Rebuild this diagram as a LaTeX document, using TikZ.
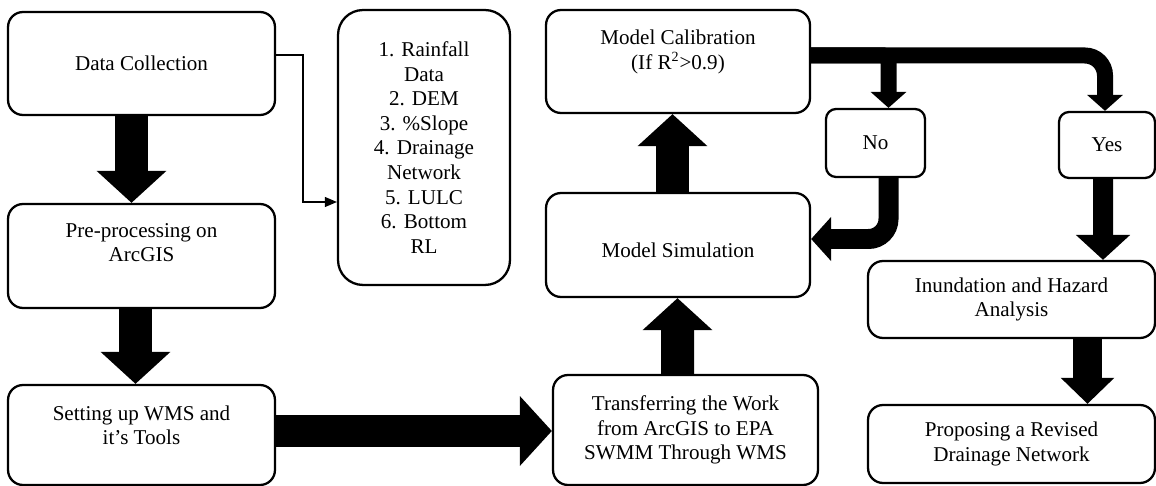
\documentclass[tikz,border=0pt]{standalone}
\usepackage{fontspec}
\setmainfont{Liberation Serif}
\usetikzlibrary{arrows.meta,calc}

\begin{document}
\begin{tikzpicture}[x=0.02cm, y=-0.02cm, font=\fontsize{12}{14}\selectfont,
  box/.style={draw, line width=1.3pt, rounded corners=0.3cm, align=center, inner sep=2pt},
  smallbox/.style={box, rounded corners=0.2cm},
  bigarrow/.style={line width=0.66cm, -{Triangle[length=0.64cm, width=1.36cm]}},
  branch/.style={line width=0.32cm, -{Triangle[length=0.32cm, width=0.7cm]}}]
\useasboundingbox (0,0) rectangle (1156,486);

\node[box, minimum width=5.34cm, minimum height=2.06cm] (dc) at (141.5,63.5) {Data Collection};
\node[box, minimum width=5.34cm, minimum height=2.08cm] (pre) at (141.5,256) {Pre-processing on\\ArcGIS\\[-3pt]\strut};
\node[box, minimum width=5.34cm, minimum height=2cm] (wms) at (141.5,435) {Setting up WMS and\\it’s Tools\\[-7pt]\strut};
\node[box, rounded corners=0.5cm, minimum width=3.44cm, minimum height=5.5cm] (list) at (424,147.5) {1. Rainfall\\Data\\2. DEM\\3. \%Slope\\4. Drainage\\Network\\5. LULC\\6. Bottom\\RL};
\node[box, minimum width=5.28cm, minimum height=2.06cm] (cal) at (678,61.5) {Model Calibration\\(If R\textsuperscript{2}>0.9)\\[-5pt]\strut};
\node[box, minimum width=5.28cm, minimum height=2.08cm] (sim) at (678,245) {\strut\\[-9pt]Model Simulation};
\node[box, minimum width=5.3cm, minimum height=2.2cm] (trans) at (685.5,430) {Transferring the Work\\from ArcGIS to EPA\\SWMM Through WMS};
\node[smallbox, minimum width=1.98cm, minimum height=1.36cm] (no) at (875.5,143) {No};
\node[smallbox, minimum width=1.92cm, minimum height=1.32cm] (yes) at (1107,145) {Yes};
\node[box, minimum width=5.74cm, minimum height=1.54cm] (inund) at (1011.5,299.5) {Inundation and Hazard\\Analysis};
\node[box, minimum width=5.74cm, minimum height=1.56cm] (prop) at (1011.5,444) {Proposing a Revised\\Drainage Network};

\coordinate (bend) at (303,55);
\draw[line width=0.6pt, -{Triangle[length=0.24cm, width=0.2cm]}] (dc.east |- bend) -- (bend) |- ($(list.west)+(0,54.5)$);

\draw[bigarrow] ($(dc.south)+(-10,0)$) -- ($(pre.north)+(-10,0)$);
\draw[bigarrow] ($(pre.south)+(-6,0)$) -- ($(wms.north)+(-6,0)$);
\draw[bigarrow] ($(wms.east)+(0,-4)$) -- ($(trans.west)+(0,1)$);
\draw[bigarrow] ($(trans.north)+(-8,0)$) -- ($(sim.south)+(-0.5,0)$);
\draw[bigarrow] ($(sim.north)+(-5.5,0)$) -- ($(cal.south)+(-5.5,0)$);

\draw[branch, rounded corners=0.1cm] ($(cal.east)+(0,-6)$) -| ($(no.north)+(13,0)$);
\draw[branch, rounded corners=0.4cm] ($(cal.east)+(0,-6)$) -| ($(yes.north)+(-2,0)$);
\draw[line width=0.4cm, rounded corners=0.4cm, -{Triangle[length=0.4cm, width=0.86cm]}] ($(no.south)+(13,0)$) |- ($(sim.east)+(0,-6)$);
\draw[line width=0.4cm, -{Triangle[length=0.5cm, width=1.06cm]}] ($(yes.south)+(-4,0)$) -- ($(inund.north)+(91.5,0)$);
\draw[line width=0.58cm, -{Triangle[length=0.52cm, width=1.04cm]}] ($(inund.south)+(76,0)$) -- ($(prop.north)+(76,0)$);
\end{tikzpicture}
\end{document}
